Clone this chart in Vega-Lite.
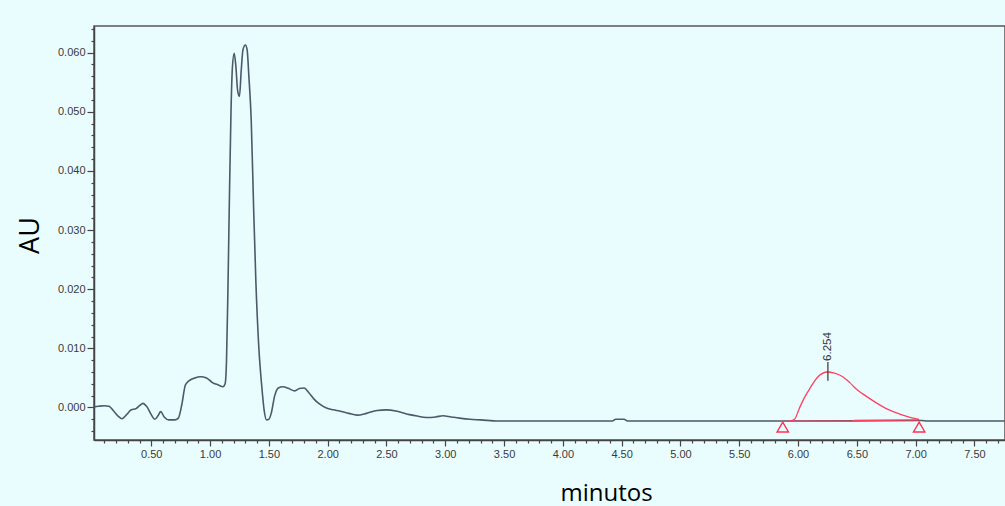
{
  "$schema": "https://vega.github.io/schema/vega-lite/v6.json",
  "width": 911,
  "height": 414,
  "autosize": {"type": "none"},
  "padding": {"left": 94, "top": 26, "right": 0, "bottom": 66},
  "background": "#EAFDFE",
  "config": {
    "view": {"stroke": "#555555", "strokeWidth": 1.5},
    "axis": {
      "domainColor": "#444444",
      "domainWidth": 1.5,
      "tickColor": "#444444",
      "tickWidth": 1.2,
      "labelFont": "Liberation Sans",
      "labelFontSize": 11,
      "labelColor": "#3a3a3a",
      "labelOverlap": false,
      "labelFlush": false,
      "grid": false
    }
  },
  "datasets": {
    "trace": [
      {"t": 0.013, "au": 0.0001}, {"t": 0.05, "au": 0.0002}, {"t": 0.10, "au": 0.0003}, {"t": 0.14, "au": 0.0002},
      {"t": 0.18, "au": -0.0006}, {"t": 0.22, "au": -0.0015}, {"t": 0.25, "au": -0.0019}, {"t": 0.29, "au": -0.0012},
      {"t": 0.33, "au": -0.0004}, {"t": 0.37, "au": -0.0002}, {"t": 0.40, "au": 0.0003}, {"t": 0.43, "au": 0.0007},
      {"t": 0.46, "au": 0.0002}, {"t": 0.50, "au": -0.0012}, {"t": 0.53, "au": -0.0020}, {"t": 0.56, "au": -0.0013},
      {"t": 0.58, "au": -0.0007}, {"t": 0.61, "au": -0.0016}, {"t": 0.65, "au": -0.0021}, {"t": 0.70, "au": -0.0021},
      {"t": 0.73, "au": -0.0018}, {"t": 0.76, "au": 0.0005}, {"t": 0.79, "au": 0.0038}, {"t": 0.82, "au": 0.0045},
      {"t": 0.87, "au": 0.0050}, {"t": 0.92, "au": 0.0052}, {"t": 0.97, "au": 0.0050}, {"t": 1.02, "au": 0.0042},
      {"t": 1.07, "au": 0.0038}, {"t": 1.11, "au": 0.0035}, {"t": 1.128, "au": 0.0040}, {"t": 1.14, "au": 0.0080},
      {"t": 1.152, "au": 0.0200}, {"t": 1.165, "au": 0.0360}, {"t": 1.178, "au": 0.0500}, {"t": 1.19, "au": 0.0575},
      {"t": 1.205, "au": 0.0599}, {"t": 1.218, "au": 0.0580}, {"t": 1.235, "au": 0.0535}, {"t": 1.25, "au": 0.0526},
      {"t": 1.265, "au": 0.0570}, {"t": 1.28, "au": 0.0605}, {"t": 1.30, "au": 0.0613}, {"t": 1.315, "au": 0.0605},
      {"t": 1.33, "au": 0.0560}, {"t": 1.35, "au": 0.0486}, {"t": 1.37, "au": 0.0340}, {"t": 1.39, "au": 0.0210},
      {"t": 1.415, "au": 0.0100}, {"t": 1.44, "au": 0.0035}, {"t": 1.46, "au": -0.0005}, {"t": 1.48, "au": -0.0021}, {"t": 1.50, "au": -0.0020},
      {"t": 1.52, "au": -0.0010}, {"t": 1.55, "au": 0.0020}, {"t": 1.58, "au": 0.0033}, {"t": 1.62, "au": 0.0035},
      {"t": 1.67, "au": 0.0032}, {"t": 1.72, "au": 0.0028}, {"t": 1.76, "au": 0.0032}, {"t": 1.80, "au": 0.0033},
      {"t": 1.84, "au": 0.0025}, {"t": 1.88, "au": 0.0015}, {"t": 1.93, "au": 0.0006}, {"t": 1.99, "au": -0.0001},
      {"t": 2.05, "au": -0.0004}, {"t": 2.10, "au": -0.0006}, {"t": 2.18, "au": -0.0010}, {"t": 2.25, "au": -0.0013},
      {"t": 2.33, "au": -0.0010}, {"t": 2.42, "au": -0.0005}, {"t": 2.50, "au": -0.0004}, {"t": 2.58, "au": -0.0006},
      {"t": 2.67, "au": -0.0011}, {"t": 2.75, "au": -0.0014}, {"t": 2.84, "au": -0.0017}, {"t": 2.92, "au": -0.0016},
      {"t": 2.98, "au": -0.0014}, {"t": 3.05, "au": -0.0016}, {"t": 3.12, "au": -0.0018}, {"t": 3.21, "au": -0.0020},
      {"t": 3.30, "au": -0.0021}, {"t": 3.45, "au": -0.0023}, {"t": 4.42, "au": -0.0023}, {"t": 4.45, "au": -0.0020},
      {"t": 4.52, "au": -0.0020}, {"t": 4.55, "au": -0.0023}, {"t": 5.93, "au": -0.0023}, {"t": 7.05, "au": -0.0022},
      {"t": 7.10, "au": -0.0023}, {"t": 7.76, "au": -0.0023}
    ],
    "peak": [
      {"t": 5.93, "au": -0.0023}, {"t": 5.97, "au": -0.0020}, {"t": 6.01, "au": -0.0002}, {"t": 6.05, "au": 0.0015},
      {"t": 6.10, "au": 0.0032}, {"t": 6.17, "au": 0.0052}, {"t": 6.25, "au": 0.0060}, {"t": 6.31, "au": 0.0058},
      {"t": 6.38, "au": 0.0052}, {"t": 6.44, "au": 0.0042}, {"t": 6.49, "au": 0.0032}, {"t": 6.55, "au": 0.0023},
      {"t": 6.61, "au": 0.0015}, {"t": 6.68, "au": 0.0006}, {"t": 6.75, "au": -0.0002}, {"t": 6.82, "au": -0.0008},
      {"t": 6.89, "au": -0.0013}, {"t": 6.96, "au": -0.0017}, {"t": 7.03, "au": -0.0020}
    ],
    "base": [
      {"t": 5.90, "au": -0.0023}, {"t": 6.46, "au": -0.0023}, {"t": 6.48, "au": -0.0022}, {"t": 7.03, "au": -0.0021}
    ],
    "marks": [
      {"t": 5.87, "au": -0.0033}, {"t": 7.03, "au": -0.0033}
    ],
    "label": [
      {"t": 6.254, "au": 0.0077, "au2": 0.0045, "text": "6.254"}
    ]
  },
  "resolve": {"axis": {"x": "independent", "y": "independent"}},
  "layer": [
    {
      "data": {"name": "trace"},
      "mark": {"type": "line", "color": "#4d5868", "strokeWidth": 1.6, "interpolate": "monotone"},
      "encoding": {
        "x": {
          "field": "t", "type": "quantitative",
          "scale": {"domain": [0.013, 7.76], "nice": false, "zero": false},
          "axis": {
            "orient": "bottom",
            "values": [0.5, 1.0, 1.5, 2.0, 2.5, 3.0, 3.5, 4.0, 4.5, 5.0, 5.5, 6.0, 6.5, 7.0, 7.5],
            "format": ".2f", "tickSize": 6, "labelPadding": 2,
            "title": "minutos", "titleFont": "Open Sans", "titleFontSize": 24, "titleFontWeight": "normal",
            "titleColor": "#000000", "titleX": 512, "titleY": 60, "titleAlign": "center", "titleBaseline": "alphabetic"
          }
        },
        "y": {
          "field": "au", "type": "quantitative",
          "scale": {"domain": [-0.0055, 0.0645], "nice": false, "zero": false},
          "axis": {
            "orient": "left",
            "values": [0, 0.01, 0.02, 0.03, 0.04, 0.05, 0.06],
            "format": ".3f", "tickSize": 7, "labelPadding": 2,
            "title": "AU", "titleFont": "Open Sans", "titleFontSize": 27, "titleFontWeight": "normal",
            "titleColor": "#000000", "titleX": -64, "titleY": 209, "titleAngle": 270, "titleAlign": "center", "titleBaseline": "middle"
          }
        }
      }
    },
    {
      "data": {"name": "base"},
      "mark": {"type": "line", "color": "#ff4060", "strokeWidth": 1.3},
      "encoding": {
        "x": {
          "field": "t", "type": "quantitative",
          "axis": {
            "orient": "bottom", "labels": false, "domain": false, "title": null, "tickSize": 3,
            "values": [0.1, 0.2, 0.3, 0.4, 0.6, 0.7, 0.8, 0.9, 1.1, 1.2, 1.3, 1.4, 1.6, 1.7, 1.8, 1.9, 2.1, 2.2, 2.3, 2.4, 2.6, 2.7, 2.8, 2.9, 3.1, 3.2, 3.3, 3.4, 3.6, 3.7, 3.8, 3.9, 4.1, 4.2, 4.3, 4.4, 4.6, 4.7, 4.8, 4.9, 5.1, 5.2, 5.3, 5.4, 5.6, 5.7, 5.8, 5.9, 6.1, 6.2, 6.3, 6.4, 6.6, 6.7, 6.8, 6.9, 7.1, 7.2, 7.3, 7.4, 7.6, 7.7]
          }
        },
        "y": {
          "field": "au", "type": "quantitative",
          "axis": {
            "orient": "left", "labels": false, "domain": false, "title": null, "tickSize": 3,
            "values": [-0.004, -0.002, 0.002, 0.004, 0.006, 0.008, 0.012, 0.014, 0.016, 0.018, 0.022, 0.024, 0.026, 0.028, 0.032, 0.034, 0.036, 0.038, 0.042, 0.044, 0.046, 0.048, 0.052, 0.054, 0.056, 0.058, 0.062, 0.064]
          }
        }
      }
    },
    {
      "data": {"name": "peak"},
      "mark": {"type": "line", "color": "#ff4060", "strokeWidth": 1.3, "interpolate": "monotone"},
      "encoding": {
        "x": {"field": "t", "type": "quantitative", "axis": null},
        "y": {"field": "au", "type": "quantitative", "axis": null}
      }
    },
    {
      "data": {"name": "marks"},
      "mark": {"type": "point", "shape": "triangle-up", "filled": false, "color": "#ff3050", "size": 130, "strokeWidth": 1.4, "opacity": 1},
      "encoding": {
        "x": {"field": "t", "type": "quantitative", "axis": null},
        "y": {"field": "au", "type": "quantitative", "axis": null}
      }
    },
    {
      "data": {"name": "label"},
      "mark": {"type": "rule", "color": "#333333", "strokeWidth": 1.2},
      "encoding": {
        "x": {"field": "t", "type": "quantitative", "axis": null},
        "y": {"field": "au", "type": "quantitative", "axis": null},
        "y2": {"field": "au2"}
      }
    },
    {
      "data": {"name": "label"},
      "mark": {"type": "text", "angle": 270, "align": "left", "baseline": "middle", "font": "Liberation Sans", "fontSize": 11.5, "color": "#333333", "dx": 1},
      "encoding": {
        "x": {"field": "t", "type": "quantitative", "axis": null},
        "y": {"field": "au", "type": "quantitative", "axis": null},
        "text": {"field": "text"}
      }
    }
  ]
}
